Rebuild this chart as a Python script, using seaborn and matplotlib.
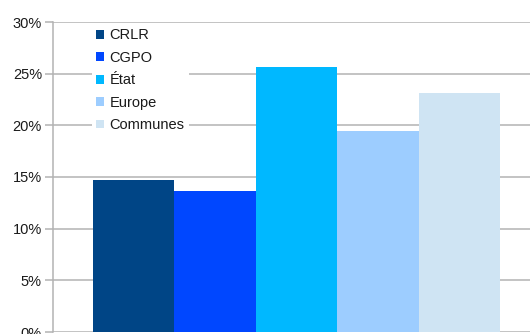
import matplotlib
matplotlib.use("Agg")
import matplotlib.pyplot as plt
from matplotlib.patches import Patch
from matplotlib.ticker import PercentFormatter
import seaborn as sns
import pandas as pd

# Share of funding by source
sources = ["CRLR", "CGPO", "État", "Europe", "Communes"]
shares = [14.7, 13.6, 25.6, 19.5, 23.1]
colors = ["#004586", "#0047ff", "#00b8ff", "#9dcdff", "#cfe4f3"]
y_ticks = [0, 5, 10, 15, 20, 25, 30]

sns.set_theme(style="white")
plt.rcParams["font.family"] = ["Liberation Sans", "DejaVu Sans"]

df = pd.DataFrame({"source": sources, "share": shares})

W, H = 530, 334
fig = plt.figure(figsize=(W / 100, H / 100), dpi=100)
ax = fig.add_axes([53 / W, 2 / H, 487 / W, 310 / H])

sns.barplot(data=df, x="source", y="share", hue="source", order=sources,
            hue_order=sources, palette=colors, width=1.0, dodge=False,
            legend=False, saturation=1, ax=ax, linewidth=0)

grid_c = "#b3b3b3"
ax.set_ylim(0, 30)
ax.set_xlim(-0.991, 4.99)
ax.set_yticks(y_ticks)
ax.yaxis.set_major_formatter(PercentFormatter(decimals=0))
ax.set_axisbelow(True)
ax.yaxis.grid(True, color=grid_c, linewidth=1.1)
ax.xaxis.grid(False)
ax.set_xticks([])
ax.set_xlabel("")
ax.set_ylabel("")
for side in ["top", "right", "bottom"]:
    ax.spines[side].set_visible(False)
ax.spines["left"].set_color(grid_c)
ax.spines["left"].set_linewidth(1.1)
ax.tick_params(axis="y", left=True, length=6, width=1.1, color=grid_c,
               pad=2, labelsize=10.5, labelcolor="#1a1a1a")

handles = [Patch(facecolor=c, edgecolor="none") for c in colors]
leg = ax.legend(handles, sources, loc="upper left",
                bbox_to_anchor=(92 / W, 1 - 24 / H), bbox_transform=fig.transFigure,
                borderaxespad=0, frameon=True, fancybox=False, facecolor="white",
                edgecolor="none", framealpha=1, fontsize=10.5, handlelength=0.55,
                handleheight=0.55, handletextpad=0.35, labelspacing=0.58,
                borderpad=0.3)
for t in leg.get_texts():
    t.set_color("#1a1a1a")

fig.savefig("out.png", dpi=100)
